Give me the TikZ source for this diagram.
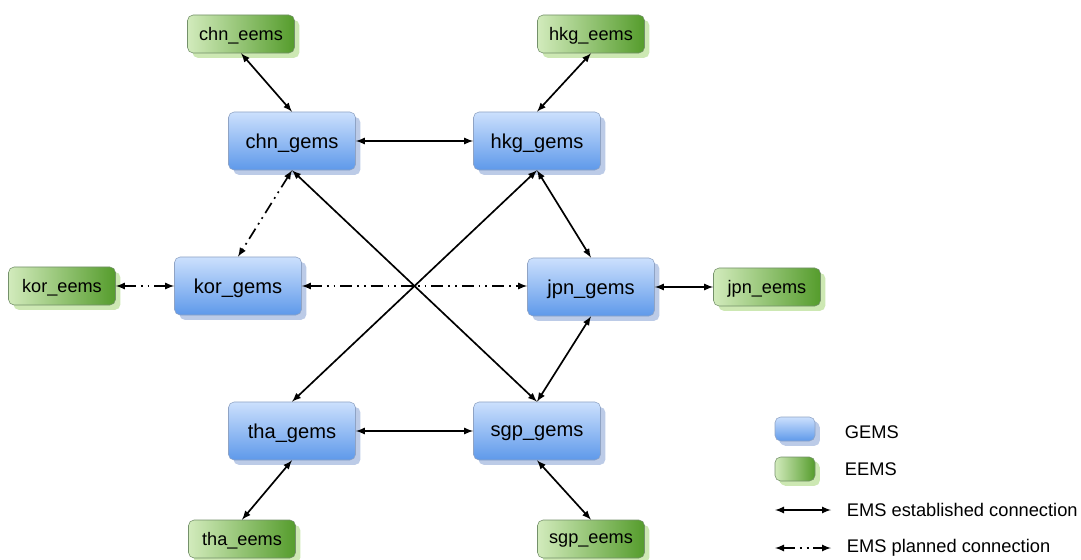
\documentclass[tikz,border=0pt]{standalone}
\usepackage{fontspec}
\setmainfont{Liberation Sans}
\usetikzlibrary{arrows,shadows}
\definecolor{gemstop}{HTML}{CCE0FD}
\definecolor{gemsbot}{HTML}{5E99EA}
\definecolor{gemsline}{HTML}{8FA3C4}
\definecolor{gemsshade}{HTML}{BCCBE7}
\definecolor{eemsleft}{HTML}{D2EBBC}
\definecolor{eemsright}{HTML}{559C2C}
\definecolor{eemsline}{HTML}{74906A}
\definecolor{eemsshade}{HTML}{CDE8B3}

\begin{document}
\begin{tikzpicture}[x=0.025cm, y=-0.025cm, >=latex,
	gems/.style={draw=gemsline, rounded corners=4pt, top color=gemstop, bottom color=gemsbot,
		minimum width=3.175cm, minimum height=1.45cm, text depth=0pt, font=\fontsize{14.3}{17}\selectfont,
		drop shadow={shadow xshift=3.5pt, shadow yshift=-3.5pt, fill=gemsshade, opacity=1}},
	eems/.style={draw=eemsline, rounded corners=4pt, left color=eemsleft, right color=eemsright,
		minimum width=2.675cm, minimum height=0.95cm, text depth=0pt, font=\fontsize{12.9}{15}\selectfont,
		drop shadow={shadow xshift=3.5pt, shadow yshift=-3.5pt, fill=eemsshade, opacity=1}},
	est/.style={<->, line width=1.2pt},
	plan/.style={<->, line width=1.2pt, dash pattern=on 8.5pt off 3.5pt on 1.3pt off 3.5pt on 1.3pt off 3.5pt},
	legtext/.style={anchor=west, font=\fontsize{13}{15}\selectfont}]
	\useasboundingbox (0,0) rectangle (1081,560);
	\node[gems] (chn) at (292, 141) {chn\_gems};
	\node[gems] (hkg) at (537, 141) {hkg\_gems};
	\node[gems] (kor) at (238, 286) {kor\_gems};
	\node[gems] (jpn) at (591, 287) {jpn\_gems};
	\node[gems] (tha) at (292, 431) {tha\_gems};
	\node[gems] (sgp) at (537, 431) {sgp\_gems};
	\node[eems] (chnE) at (241, 34) {chn\_eems};
	\node[eems] (hkgE) at (591, 34) {hkg\_eems};
	\node[eems] (korE) at (62, 286) {kor\_eems};
	\node[eems] (jpnE) at (767, 287) {jpn\_eems};
	\node[eems] (thaE) at (242, 539) {tha\_eems};
	\node[eems] (sgpE) at (591, 539) {sgp\_eems};
	\draw [est] (chnE.south) -- (chn.north);
	\draw [est] (hkgE.south) -- (hkg.north);
	\draw [est] (chn) -- (hkg);
	\draw [est] (chn.south) -- (sgp.north);
	\draw [est] (hkg.south) -- (tha.north);
	\draw [est] (hkg.south) -- (jpn.north);
	\draw [est] (jpn) -- (jpnE);
	\draw [est] (jpn.south) -- (sgp.north);
	\draw [est] (tha) -- (sgp);
	\draw [est] (tha.south) -- (thaE.north);
	\draw [est] (sgp.south) -- (sgpE.north);
	\draw [plan] (chn.south) -- (kor.north);
	\draw [plan] (korE) -- (kor);
	\draw [plan] (kor) -- (jpn.west |- kor);
	% legend
	\node[gems, minimum width=1cm, minimum height=0.6cm, drop shadow={shadow xshift=2.5pt, shadow yshift=-2.5pt, fill=gemsshade, opacity=1}] (legG) at (795, 429) {};
	\node[eems, minimum width=1cm, minimum height=0.6cm, drop shadow={shadow xshift=2.5pt, shadow yshift=-2.5pt, fill=eemsshade, opacity=1}] (legE) at (795, 469) {};
	\node[legtext] (legGt) at (840, 432) {GEMS};
	\node[legtext] (legEt) at (840, 469) {EEMS};
	\coordinate (estA) at (775, 510);
	\coordinate (estB) at (831, 510);
	\coordinate (planA) at (775, 548);
	\coordinate (planB) at (831, 548);
	\draw [est] (estA) -- (estB);
	\draw [plan] (planA) -- (planB);
	\node[legtext] (estT) at (842, 510) {EMS established connection};
	\node[legtext] (planT) at (842, 548) {EMS planned connection};
\end{tikzpicture}
\end{document}
